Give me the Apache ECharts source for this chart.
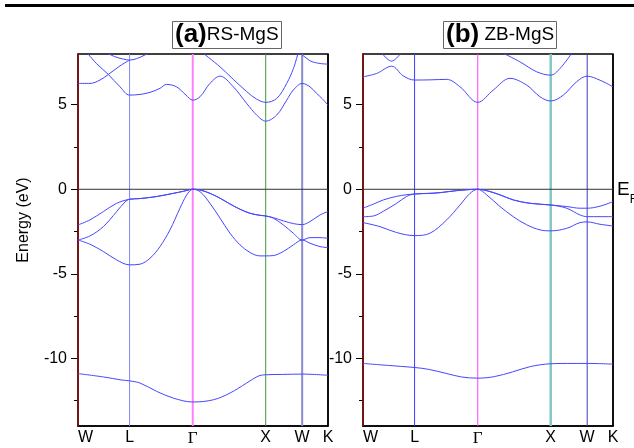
<!DOCTYPE html>
<html><head><meta charset="utf-8">
<script src="https://cdn.jsdelivr.net/npm/echarts@6/dist/echarts.min.js"></script>
<style>html,body{margin:0;padding:0;background:#fff}#c{width:634px;height:448px}</style>
</head><body><div id="c"></div>
<script>
// ---- k-path (high-symmetry points) ----
const kPoints = [0, 0.707, 1.573, 2.573, 3.073, 3.427];
const kLabels = ['W', 'L', 'Γ', 'X', 'W', 'K'];
const yRange = [-14, 8];
const yMajorTicks = [-10, -5, 0, 5];
const yMinorTicks = [-12.5, -7.5, -2.5, 2.5];

// ---- (a) RS-MgS bands [k, E(eV)] ----
const rsS = [[0,-10.9],[0.35,-11.1],[0.6,-11.28],[0.707,-11.33],[0.85,-11.46],[1.078,-11.95],[1.307,-12.35],[1.573,-12.58],[1.855,-12.45],[2.084,-12.05],[2.312,-11.46],[2.47,-11.05],[2.573,-10.97],[2.8,-10.95],[3.073,-10.93],[3.427,-11.0]];
const rsV1 = [[0,-3.0],[0.164,-3.25],[0.347,-3.68],[0.53,-4.18],[0.707,-4.47],[0.85,-4.43],[0.987,-4.08],[1.124,-3.39],[1.261,-2.4],[1.398,-1.12],[1.49,-0.34],[1.573,0],[1.672,-0.14],[1.809,-0.83],[1.947,-1.71],[2.084,-2.6],[2.221,-3.29],[2.358,-3.74],[2.495,-3.94],[2.573,-3.94],[2.678,-3.92],[2.815,-3.68],[2.952,-3.29],[3.073,-3.0],[3.18,-3.19],[3.317,-3.39],[3.427,-3.45]];
const rsV2 = [[0,-3.0],[0.164,-2.76],[0.347,-2.21],[0.53,-1.32],[0.644,-0.75],[0.707,-0.59],[0.85,-0.55],[1.078,-0.43],[1.307,-0.24],[1.444,-0.12],[1.573,0],[1.672,-0.04],[1.809,-0.24],[1.947,-0.53],[2.084,-0.87],[2.221,-1.18],[2.358,-1.42],[2.495,-1.54],[2.573,-1.58],[2.678,-1.71],[2.815,-2.11],[2.952,-2.6],[3.073,-3.0],[3.18,-2.86],[3.317,-2.86],[3.427,-2.9]];
const rsV3 = [[0,-2.11],[0.164,-1.81],[0.347,-1.32],[0.53,-0.83],[0.707,-0.59],[0.85,-0.55],[1.078,-0.43],[1.307,-0.24],[1.444,-0.12],[1.573,0],[1.672,-0.04],[1.809,-0.24],[1.947,-0.53],[2.084,-0.87],[2.221,-1.18],[2.358,-1.42],[2.495,-1.54],[2.573,-1.58],[2.678,-1.68],[2.815,-1.87],[2.952,-2.03],[3.073,-2.09],[3.18,-1.91],[3.317,-1.52],[3.427,-1.32]];
const rsC1 = [[0,6.26],[0.164,6.26],[0.302,6.46],[0.416,6.79],[0.576,7.3],[0.707,7.64]];
const rsC2 = [[0.38,8.1],[0.5,7.85],[0.62,7.7],[0.707,7.64],[0.8,7.72],[0.92,7.95],[0.98,8.1]];
const rsC3 = [[0.12,8.1],[0.25,7.45],[0.416,6.79],[0.576,6.06],[0.707,5.57],[0.85,5.61],[0.987,5.73],[1.124,5.97],[1.215,6.2],[1.35,6.06],[1.48,5.57],[1.573,5.27],[1.672,5.47],[1.809,6.26],[1.947,6.69],[2.129,6.06],[2.312,5.08],[2.449,4.39],[2.573,4.03],[2.724,4.39],[2.861,5.27],[2.952,5.87],[3.073,6.26],[3.18,6.06],[3.271,5.67],[3.35,5.35],[3.427,4.97]];
const rsC4 = [[1.70,8.1],[1.947,7.24],[2.129,6.5],[2.312,5.78],[2.449,5.33],[2.573,5.14],[2.724,5.37],[2.861,6.26],[2.952,7.13],[3.02,8.1]];
const rsC5 = [[2.99,8.1],[3.073,7.95],[3.18,7.6],[3.3,7.45],[3.427,7.4]];

// ---- (b) ZB-MgS bands [k, E(eV)] ----
const zbS = [[0,-10.3],[0.35,-10.42],[0.707,-10.54],[0.9,-10.65],[1.15,-10.9],[1.35,-11.1],[1.573,-11.17],[1.8,-11.08],[2.05,-10.8],[2.3,-10.48],[2.573,-10.32],[2.8,-10.3],[3.073,-10.3],[3.427,-10.34]];
const zbV1 = [[0,-1.97],[0.233,-2.21],[0.461,-2.56],[0.707,-2.74],[0.918,-2.6],[1.147,-1.81],[1.33,-0.93],[1.467,-0.24],[1.573,0],[1.695,-0.33],[1.878,-1.02],[2.06,-1.62],[2.244,-2.1],[2.426,-2.4],[2.573,-2.46],[2.792,-2.31],[2.975,-1.97],[3.073,-1.93],[3.249,-2.07],[3.427,-2.17]];
const zbV2 = [[0,-1.62],[0.142,-1.58],[0.279,-1.3],[0.461,-0.83],[0.599,-0.42],[0.707,-0.28],[0.918,-0.24],[1.056,-0.2],[1.284,-0.08],[1.421,-0.03],[1.573,0],[1.695,-0.08],[1.878,-0.33],[2.06,-0.63],[2.289,-0.83],[2.573,-0.93],[2.792,-1.12],[2.975,-1.52],[3.073,-1.62],[3.249,-1.62],[3.427,-1.62]];
const zbV3 = [[0,-1.12],[0.142,-0.88],[0.279,-0.63],[0.461,-0.42],[0.599,-0.32],[0.707,-0.28],[0.918,-0.24],[1.056,-0.2],[1.284,-0.08],[1.421,-0.03],[1.573,0],[1.695,-0.08],[1.878,-0.33],[2.06,-0.63],[2.289,-0.83],[2.573,-0.93],[2.792,-1.02],[2.975,-1.12],[3.073,-1.12],[3.249,-1.0],[3.427,-0.73]];
const zbC1 = [[0,6.65],[0.187,6.85],[0.393,7.28],[0.553,6.7],[0.707,6.46],[0.918,6.47],[1.147,6.5],[1.33,6.06],[1.573,5.14],[1.786,5.87],[2.015,6.56],[2.244,6.16],[2.426,5.47],[2.573,5.22],[2.746,5.57],[2.929,6.36],[3.073,6.69],[3.249,6.45],[3.427,6.06]];
const zbC2 = [[0.25,8.1],[0.33,7.72],[0.393,7.58],[0.45,7.72],[0.53,8.1]];
const zbC3 = [[1.9,8.1],[2.15,7.54],[2.38,6.95],[2.573,6.75],[2.70,7.14],[2.87,8.1]];

const rsBands = [rsS, rsV1, rsV2, rsV3, rsC1, rsC2, rsC3, rsC4, rsC5];
const zbBands = [zbS, zbV1, zbV2, zbV3, zbC1, zbC2, zbC3];

// ---- styling ----
const FONT = '"Liberation Sans", Arial, sans-serif';
const BAND = '#4646ff';
const vStyles = [
  [['#7a1414',1.5],['#8585ff',1],['#ff80ff',2],['#3f9a3f',1],['#8c8cd0',2],['#000000',1.5]],
  [['#7a1414',1.5],['#3c3cff',1],['#ff40ff',1],['#86c6c6',2.5],['#3c3cc0',1],['#000000',1.5]]
];

const grids = [
  {left:78, top:54, width:250, height:372},
  {left:363, top:54, width:250, height:372}
];

function xAxisFor(gi){
  return {
    type:'value', gridIndex:gi, min:kPoints[0], max:kPoints[kPoints.length-1],
    axisLine:{show:true, onZero:false, lineStyle:{color:'#000', width:1.5}},
    axisTick:{show:false}, splitLine:{show:false},
    axisLabel:{
      customValues:kPoints, margin:4, color:'#000', fontFamily:FONT, fontSize:16, hideOverlap:false,
      showMinLabel:true, showMaxLabel:true, alignMinLabel:'left',
      formatter:(v)=>{
        const i = kPoints.findIndex(k=>Math.abs(k-v)<1e-6);
        const t = i>=0 ? kLabels[i] : '';
        return t==='Γ' ? '{g|Γ}' : t;
      },
      rich:{g:{fontFamily:'"Liberation Serif", serif', fontSize:17, color:'#000'}}
    }
  };
}
function yAxesFor(gi){
  return [{
    type:'value', gridIndex:gi, min:yRange[0], max:yRange[1], position:'left',
    axisLine:{show:true, onZero:false, lineStyle:{color:'#7a1414', width:1.5}},
    axisTick:{show:true, customValues:yMajorTicks, length:7, lineStyle:{color:'#000', width:1}},
    axisLabel:{customValues:yMajorTicks, margin:11, fontSize:16, color:'#000', fontFamily:FONT},
    splitLine:{show:false},
    name: gi===0 ? 'Energy (eV)' : '', nameLocation:'middle', nameGap:46,
    nameTextStyle:{fontSize:16, color:'#000', fontFamily:FONT, padding:[0,0,0,40]}
  },{
    type:'value', gridIndex:gi, min:yRange[0], max:yRange[1], position:'left', offset:0,
    axisLine:{show:false},
    axisTick:{show:true, customValues:yMinorTicks, length:4, lineStyle:{color:'#000', width:1}},
    axisLabel:{show:false}, splitLine:{show:false}
  }];
}

const series = [];
[rsBands, zbBands].forEach((bands, gi)=>{
  kPoints.forEach((k, i)=>{
    series.push({
      type:'line', xAxisIndex:gi, yAxisIndex:gi*2, data:[[k,yRange[0]],[k,yRange[1]]],
      symbol:'none', silent:true, clip:false, z:1,
      lineStyle:{color:vStyles[gi][i][0], width:vStyles[gi][i][1]}
    });
  });
  series.push({
    type:'line', xAxisIndex:gi, yAxisIndex:gi*2,
    data:[[kPoints[0],0],[kPoints[kPoints.length-1],0]],
    symbol:'none', silent:true, z:2, lineStyle:{color:'#333', width:1},
    endLabel: gi===1 ? {show:true, formatter:'{e|E}{f|F}', distance:4,
      rich:{e:{fontSize:19, fontFamily:FONT, color:'#000'}, f:{fontSize:12, fontFamily:FONT, color:'#000', padding:[20,0,0,0]}}} : {show:false}
  });
  bands.forEach(b=>{
    series.push({
      type:'line', xAxisIndex:gi, yAxisIndex:gi*2, data:b, symbol:'none', silent:true,
      smooth:0.35, clip:true, z:3, lineStyle:{color:BAND, width:1}
    });
  });
});

const titleBox = (txt, left)=>({
  text:txt, left:left, top:21, borderColor:'#666', borderWidth:1, padding:[1,3,1,3],
  textStyle:{fontWeight:'normal', rich:{
    a:{fontSize:26, fontWeight:'bold', fontFamily:FONT, color:'#000'},
    b:{fontSize:19, fontWeight:'normal', fontFamily:FONT, color:'#000'}
  }}
});

const chart = echarts.init(document.getElementById('c'), null, {renderer:'canvas'});
chart.setOption({
  animation:false,
  backgroundColor:'#fff',
  title:[titleBox('{a|(a)}{b|RS-MgS}', 172), titleBox('{a|(b)}{b| ZB-MgS}', 443)],
  grid:grids.map(g=>Object.assign({show:true, borderColor:'#000', borderWidth:1.5, backgroundColor:'transparent'}, g)),
  xAxis:[xAxisFor(0), xAxisFor(1)],
  yAxis:[...yAxesFor(0), ...yAxesFor(1)],
  graphic:[{type:'rect', left:5, top:4, shape:{width:629, height:3}, style:{fill:'#000'}, silent:true}],
  series:series
});
</script></body></html>
